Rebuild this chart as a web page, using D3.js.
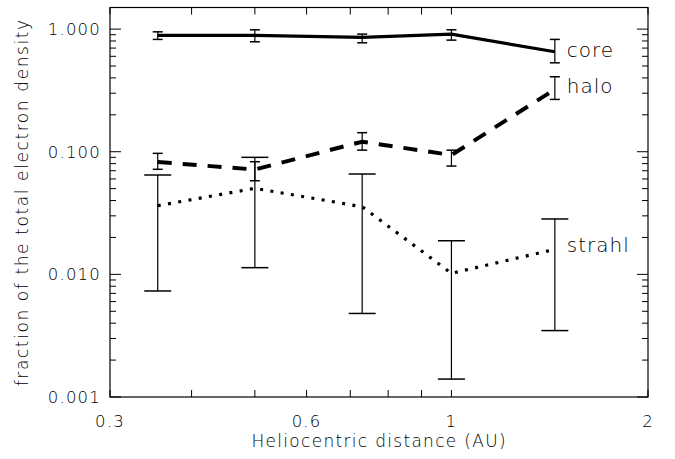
<!DOCTYPE html>
<html>
<head>
<meta charset="utf-8">
<script src="https://cdn.jsdelivr.net/npm/d3@7"></script>
<style>
  body { margin: 0; background: #fff; }
  text { font-family: "DejaVu Sans", sans-serif; font-weight: 200; fill: #000; }
</style>
</head>
<body>
<script>
// heliocentric distances (AU)
let distances = [0.355, 0.5, 0.73, 1.0, 1.44];

// core fraction, with error bar limits
let coreValues = [0.888, 0.888, 0.856, 0.91, 0.653];
let coreLow    = [0.824, 0.788, 0.773, 0.813, 0.531];
let coreHigh   = [0.95, 0.987, 0.91, 0.987, 0.824];

// halo
let haloValues = [0.0824, 0.0716, 0.1207, 0.094, 0.3225];
let haloLow    = [0.0719, 0.058, 0.103, 0.0764, 0.267];
let haloHigh   = [0.097, 0.0829, 0.143, 0.103, 0.4086];

// strahl
let strahlValues = [0.0363, 0.0503, 0.0356, 0.0102, 0.016];
let strahlLow    = [0.00732, 0.01134, 0.0048, 0.0014, 0.00348];
let strahlHigh   = [0.0646, 0.090, 0.0658, 0.0188, 0.0283];

let xTickValues = [0.3, 0.6, 1, 2];
let xTickLabels = ["0.3", "0.6", "1", "2"];
let xMinorTicks = [0.4, 0.5, 0.7, 0.8, 0.9];
let yTickValues = [0.001, 0.01, 0.1, 1];
let yTickLabels = ["0.001", "0.010", "0.100", "1.000"];

//---------------------------------------------------------------------------------------------------//

let width = 675, height = 459;
let margin = { left: 110, right: 27, top: 7.5, bottom: 62 };
let plotW = width - margin.left - margin.right;
let plotH = height - margin.top - margin.bottom;

let svg = d3.select('body').append('svg').attr('width', width).attr('height', height);
let chart = svg.append('g').attr('transform', `translate(${margin.left}, ${margin.top})`);

let x = d3.scaleLog().domain([0.3, 2]).range([0, plotW]);
let y = d3.scaleLog().domain([0.001, 1.5]).range([plotH, 0]);

// minor y ticks: 2..9 in each decade
let yMinorTicks = [];
[0.001, 0.01, 0.1, 1].forEach(d => {
    for (let k = 2; k <= 9; k++) {
        if (d * k <= 1.5) yMinorTicks.push(d * k);
    }
});

// frame
chart.append('rect')
    .attr('width', plotW).attr('height', plotH)
    .attr('fill', 'none').attr('stroke', '#000').attr('stroke-width', 1.2);

// x ticks bottom and top
let allX = xTickValues.concat(xMinorTicks);
chart.selectAll('.xtb').data(allX).enter().append('line')
    .attr('x1', d => x(d)).attr('x2', d => x(d))
    .attr('y1', plotH).attr('y2', plotH - 7)
    .attr('stroke', '#000');
chart.selectAll('.xtt').data(allX).enter().append('line')
    .attr('x1', d => x(d)).attr('x2', d => x(d))
    .attr('y1', 0).attr('y2', 7)
    .attr('stroke', '#000');

// y ticks left and right
chart.selectAll('.ytl').data(yTickValues).enter().append('line')
    .attr('x1', 0).attr('x2', 11)
    .attr('y1', d => y(d)).attr('y2', d => y(d))
    .attr('stroke', '#000');
chart.selectAll('.ytlm').data(yMinorTicks).enter().append('line')
    .attr('x1', 0).attr('x2', 6)
    .attr('y1', d => y(d)).attr('y2', d => y(d))
    .attr('stroke', '#000');
chart.selectAll('.ytr').data(yTickValues).enter().append('line')
    .attr('x1', plotW).attr('x2', plotW - 11)
    .attr('y1', d => y(d)).attr('y2', d => y(d))
    .attr('stroke', '#000');
chart.selectAll('.ytrm').data(yMinorTicks).enter().append('line')
    .attr('x1', plotW).attr('x2', plotW - 6)
    .attr('y1', d => y(d)).attr('y2', d => y(d))
    .attr('stroke', '#000');

// tick labels
chart.selectAll('.xl').data(xTickValues).enter().append('text')
    .attr('x', d => x(d)).attr('y', plotH + 30)
    .attr('text-anchor', 'middle')
    .attr('font-size', '16.5px').attr('letter-spacing', '1.2px')
    .text((d, i) => xTickLabels[i]);
chart.selectAll('.yl').data(yTickValues).enter().append('text')
    .attr('x', -9).attr('y', d => y(d) + 6)
    .attr('text-anchor', 'end')
    .attr('font-size', '16.5px').attr('letter-spacing', '1.2px')
    .text((d, i) => yTickLabels[i]);

// axis titles
svg.append('text')
    .attr('x', margin.left + x(0.775)).attr('y', 447)
    .attr('text-anchor', 'middle')
    .attr('font-size', '17px').attr('letter-spacing', '1.3px')
    .text('Heliocentric distance (AU)');
svg.append('text')
    .attr('transform', `translate(28, ${margin.top + plotH / 2}) rotate(-90)`)
    .attr('text-anchor', 'middle')
    .attr('font-size', '17px').attr('letter-spacing', '1.6px')
    .text('fraction of the total electron density');

//---------------------------------------------------------------------------------------------------//
// series

let series = [
    { name: 'core', vals: coreValues, lo: coreLow, hi: coreHigh, width: 3.2, dash: null, cap: 10 },
    { name: 'halo', vals: haloValues, lo: haloLow, hi: haloHigh, width: 4, dash: '14,11', cap: 10 },
    { name: 'strahl', vals: strahlValues, lo: strahlLow, hi: strahlHigh, width: 3.2, dash: '3,7.4', cap: 27 }
];

let line = d3.line()
    .x(d => x(d[0]))
    .y(d => y(d[1]));

series.forEach(s => {
    let pts = distances.map((d, i) => [d, s.vals[i]]);
    chart.append('path')
        .attr('d', line(pts))
        .attr('fill', 'none')
        .attr('stroke', '#000')
        .attr('stroke-width', s.width)
        .attr('stroke-dasharray', s.dash);

    let bars = chart.append('g');
    distances.forEach((d, i) => {
        let cx = x(d);
        bars.append('line')
            .attr('x1', cx).attr('x2', cx)
            .attr('y1', y(s.lo[i])).attr('y2', y(s.hi[i]))
            .attr('stroke', '#000').attr('stroke-width', 1.2);
        [s.lo[i], s.hi[i]].forEach(v => {
            bars.append('line')
                .attr('x1', cx - s.cap / 2).attr('x2', cx + s.cap / 2)
                .attr('y1', y(v)).attr('y2', y(v))
                .attr('stroke', '#000').attr('stroke-width', 1.5);
        });
    });

    // label next to the last point
    let last = s.vals.length - 1;
    chart.append('text')
        .attr('x', x(distances[last]) + 12)
        .attr('y', y(s.vals[last]) + (s.name === 'core' ? 5 : (s.name === 'halo' ? 4 : 3)))
        .attr('font-size', '20px').attr('letter-spacing', '1px')
        .text(s.name);
});
</script>
</body>
</html>
